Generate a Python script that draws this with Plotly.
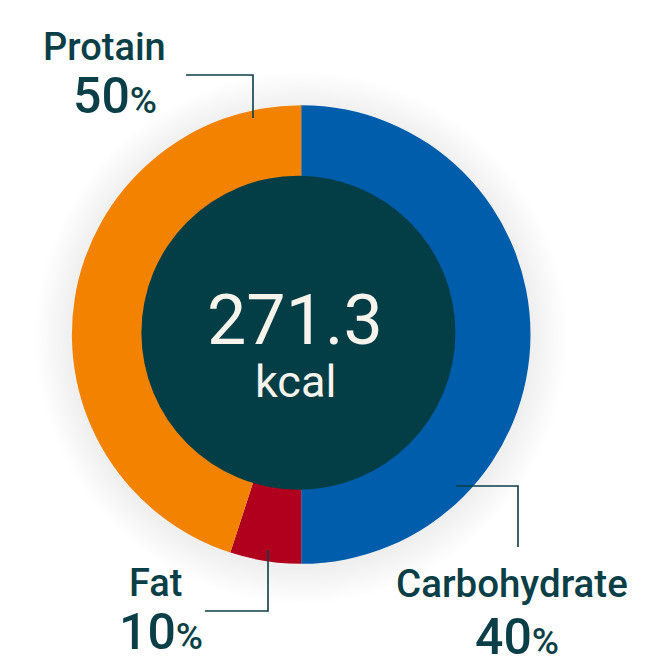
import plotly.graph_objects as go

# ---- data ----
categories = ["Carbohydrate", "Fat", "Protain"]
slice_values = [50, 5, 45]
label_percents = ["40", "10", "50"]
center_value = "271.3"
center_unit = "kcal"
colors = ["#005dab", "#b1001d", "#f28200"]

W, H = 650, 671
def X(px):
    return px / W
def Y(py):
    return 1 - py / H

cx, cy, R = 301.2, 334.5, 229.3
icx, icy, IR = 298.4, 332.7, 157.0
TEAL = "#033e47"
TXT = "#0b3f47"

fig = go.Figure()
fig.add_trace(go.Pie(
    labels=categories, values=slice_values, sort=False, direction="clockwise",
    rotation=0, hole=0.55, textinfo="none", hoverinfo="label+value",
    marker=dict(colors=colors, line=dict(width=0)),
    domain=dict(x=[X(cx - R), X(cx + R)], y=[Y(cy + R), Y(cy - R)]),
    showlegend=False,
))

shapes = []
# soft glow around ring
n = 16
for i in range(n):
    r = R + 36 * (n - i) / n
    shapes.append(dict(type="circle", xref="paper", yref="paper", layer="below",
                       x0=X(cx - r), x1=X(cx + r), y0=Y(cy + r + 3), y1=Y(cy - r + 3),
                       fillcolor="rgba(185,178,160,0.012)", line=dict(width=0)))
# center dark disk
shapes.append(dict(type="circle", xref="paper", yref="paper", layer="above",
                   x0=X(icx - IR), x1=X(icx + IR), y0=Y(icy + IR), y1=Y(icy - IR),
                   fillcolor=TEAL, line=dict(width=0)))
# connector lines
def path(points):
    d = "M " + " L ".join(f"{X(a)},{Y(b)}" for a, b in points)
    return dict(type="path", xref="paper", yref="paper", layer="above", path=d,
                line=dict(color=TXT, width=1.6))
shapes.append(path([(186, 75), (253, 75), (253, 118)]))
shapes.append(path([(268, 550), (268, 611), (205, 611)]))
shapes.append(path([(456, 486), (518, 486), (518, 547)]))

fig.update_layout(shapes=shapes)

ann = []
def label(text, x, y, size, color=TXT, weight=500):
    ann.append(dict(text=text, x=X(x), y=Y(y), xref="paper", yref="paper",
                    xanchor="center", yanchor="middle", showarrow=False, borderpad=0,
                    font=dict(family="Roboto", size=size, color=color, weight=weight)))

def pct(v):
    return f"{v}<span style='font-size:37px'>%</span>"

label(categories[2], 104.5, 47, 38)
label(pct(label_percents[2]), 114.5, 96, 50)
label(categories[1], 155.5, 583, 38)
label(pct(label_percents[1]), 160.5, 632, 50)
label(categories[0], 511.5, 583, 38.5)
label(pct(label_percents[0]), 516.5, 637, 50)
label(center_value, 295, 320, 70, color="#f8f4ec", weight=400)
label(center_unit, 295.5, 381, 45, color="#f8f4ec", weight=400)

fig.update_layout(annotations=ann, width=W, height=H,
                  margin=dict(l=0, r=0, t=0, b=0),
                  paper_bgcolor="white", plot_bgcolor="white")
fig.write_html("out.html", config={"displayModeBar": False},
               post_script="document.body.style.margin='0';")
